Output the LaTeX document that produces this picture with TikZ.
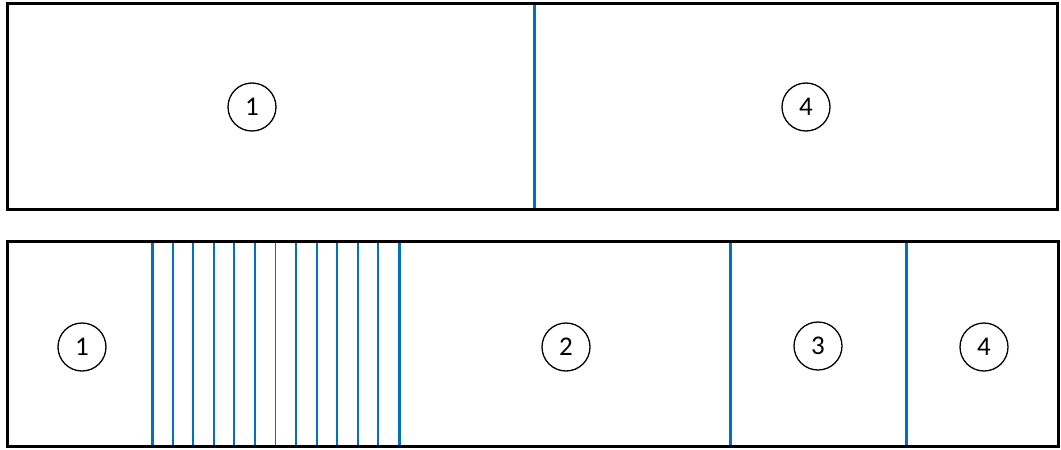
\documentclass[tikz,border=0pt]{standalone}
\usepackage{fontspec}
\setmainfont{Carlito}
\definecolor{mblue}{HTML}{0070C0}
\tikzset{
  frame/.style={draw=black, line width=3pt},
  thick blue/.style={draw=mblue, line width=3pt},
  thin blue/.style={draw=mblue, line width=1.9pt},
  num/.style={circle, draw=black, line width=1.3pt, minimum size=48pt, inner sep=0pt, font=\fontsize{27}{27}\selectfont}
}
\begin{document}
\begin{tikzpicture}[x=1pt,y=-1pt]
\useasboundingbox (0,0) rectangle (1061,450);
% top bar
\draw[thick blue] (534,3) -- (534,209);
\draw[frame] (7,3) rectangle (1057,209);
\node[num] (t1) at (252,107) {1};
\node[num] (t4) at (806,107) {4};
% bottom bar
\foreach \i in {1,...,11} {
  \draw[thin blue] ({152+\i*247/12},241) -- ({152+\i*247/12},446);
}
\draw[thick blue] (152,241) -- (152,446);
\draw[thick blue] (399,241) -- (399,446);
\draw[thick blue] (730,241) -- (730,446);
\draw[thick blue] (906,241) -- (906,446);
\draw[frame] (7,241) rectangle (1058,446);
\node[num] (b1) at (82,347) {1};
\node[num] (b2) at (566,347) {2};
\node[num] (b3) at (818,346) {3};
\node[num] (b4) at (984,347) {4};
\end{tikzpicture}
\end{document}
